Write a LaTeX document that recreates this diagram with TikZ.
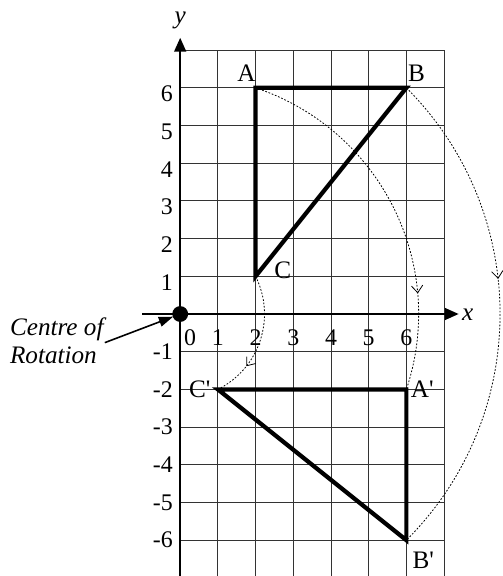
\documentclass[tikz,border=0pt]{standalone}
\usepackage{fontspec}
\setmainfont{Liberation Serif}
\usetikzlibrary{arrows.meta,decorations.markings}

\begin{document}
\begin{tikzpicture}[
    x=1cm, y=1cm,
    gridline/.style={draw=black!80, line width=0.7pt},
    axis/.style={line width=1.8pt, -{Triangle[length=3.7mm,width=3.1mm]}},
    tri/.style={line width=3.2pt, line join=miter},
    turn/.style={line width=0.6pt, dash pattern=on 1.3pt off 1.3pt, postaction={decorate},
        decoration={markings, mark=at position #1 with {\arrow[solid,line width=0.6pt]{Straight Barb[length=1.9mm,width=3mm]}}}},
    pointer/.style={line width=1.2pt, -{Triangle[length=3.8mm,width=2.6mm]}, shorten >=-0.5pt},
    num/.style={font=\fontsize{18}{20}\selectfont, inner sep=0pt},
    lbl/.style={font=\fontsize{19}{21}\selectfont, inner sep=0pt}
]
\useasboundingbox (-4.78,-6.95) rectangle (8.56,8.33);

% grid and axes
\draw[gridline] (0,-7) grid (7,7);
\coordinate (ybot) at (0,-7);
\coordinate (ytop) at (0,7.33);
\coordinate (xleft) at (-1,0);
\coordinate (xright) at (7.39,0);
\draw[axis] (ybot) -- (ytop);
\draw[axis] (xleft) -- (xright);
\node[lbl, font=\fontsize{19}{21}\selectfont\itshape] (ylab) at (0,7.8) {y};
\node[lbl, font=\fontsize{19}{21}\selectfont\itshape] (xlab) at (7.63,-0.02) {x};

% axis numbers
\foreach \k in {1,...,6} {
    \node[num, anchor=east] (yp\k) at (-0.19,\k-0.16) {\k};
    \node[num, anchor=east] (yn\k) at (-0.19,-\k) {-\k};
    \node[num] (xn\k) at (\k,-0.62) {\k};
}
\node[num] (xn0) at (0.26,-0.62) {0};

% object and image
\coordinate (A) at (2,6);
\coordinate (B) at (6,6);
\coordinate (C) at (2,1);
\coordinate (Ai) at (6,-2);
\coordinate (Bi) at (6,-6);
\coordinate (Ci) at (1,-2);
\draw[tri] (A) -- (B) -- (C) -- cycle;
\draw[tri] (Ai) -- (Bi) -- (Ci) -- cycle;

\node[lbl] (Alab) at (1.76,6.39) {A};
\node[lbl] (Blab) at (6.27,6.39) {B};
\node[lbl] (Clab) at (2.72,1.17) {C};
\node[lbl] (Ailab) at (6.42,-2.0) {A\textquotesingle};
\node[lbl] (Bilab) at (6.45,-6.53) {B\textquotesingle};
\node[lbl] (Cilab) at (0.52,-1.99) {C\textquotesingle};

% rotation paths
\draw[turn=0.74] (A) arc[start angle=71.565, end angle=-18.435, radius=6.3246];
\draw[turn=0.43] (B) arc[start angle=45, end angle=-45, radius=8.4853];
\draw[turn=0.72] (C) arc[start angle=26.565, end angle=-63.435, radius=2.2361];

% centre of rotation
\node[circle, fill, inner sep=0pt, minimum size=0.42cm] (origin) at (0,0) {};
\node[lbl, font=\fontsize{19}{21}\selectfont\itshape, align=left, anchor=west] (centre) at (-4.52,-0.72) {Centre of\\Rotation};
\coordinate (tail) at (-2.0,-0.76);
\draw[pointer] (tail) -- (origin);

\end{tikzpicture}
\end{document}
